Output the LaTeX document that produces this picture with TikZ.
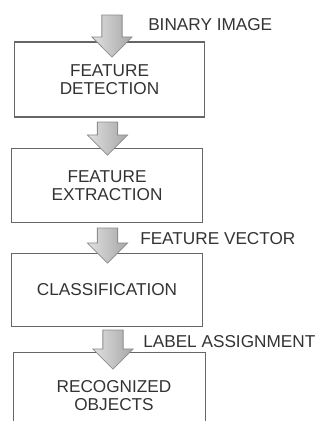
\documentclass[tikz,border=0pt]{standalone}
\usepackage{fontspec}
\setmainfont{Liberation Sans}
\usetikzlibrary{shapes.arrows}
\tikzstyle{stage}=[draw=black!60, line width=0.8pt, minimum width=143pt, inner sep=0pt, align=center, text=black!80, font=\fontsize{12.9}{13.5}\selectfont]
\tikzstyle{flow}=[single arrow, rotate=-90, draw=black!45, line width=0.6pt, left color=black!12, right color=black!35, inner xsep=0pt, inner ysep=7.3pt, minimum width=29.5pt, single arrow head extend=7.5pt, single arrow tip angle=90, single arrow head indent=0pt]
\tikzstyle{tag}=[anchor=west, inner sep=0pt, text=black!80, font=\fontsize{12.9}{13.5}\selectfont]

\begin{document}
\begin{tikzpicture}[x=0.75pt, y=-0.75pt]
            \useasboundingbox (0,0) rectangle (320,421);
            \node[stage, minimum height=56.25pt] (detect) at (109.5, 79.5) {FEATURE\\DETECTION}
            ;
            \node[stage, minimum height=55.5pt] (extract) at (107, 185.5) {FEATURE\\EXTRACTION}
            ;
            \node[stage, minimum height=54.75pt] (classify) at (107, 290) {CLASSIFICATION}
            ;
            \node[stage, draw=none, minimum height=51pt] (objbox) at (109.5, 387) {}
            ;
            \draw[draw=black!60, line width=0.8pt] (objbox.south west) |- (objbox.north east) -- (objbox.south east);
            \node[stage, draw=none] (objects) at (114, 396) {RECOGNIZED\\OBJECTS}
            ;
            % block arrows between the stages
            \node[flow, minimum height=31.5pt] (input) at (112, 31) {}
            ;
            \node[flow, minimum height=24.75pt] (a2) at (107.5, 133.5) {}
            ;
            \node[flow, minimum height=26.25pt] (a3) at (107.5, 240.5) {}
            ;
            \node[flow, minimum height=29.25pt] (a4) at (113, 344.5) {}
            ;
            \node[tag] (binary) at (148, 25) {BINARY IMAGE};
            \node[tag] (vector) at (140, 239) {FEATURE VECTOR};
            \node[tag] (assign) at (143, 342) {LABEL ASSIGNMENT};
        \end{tikzpicture}
\end{document}
